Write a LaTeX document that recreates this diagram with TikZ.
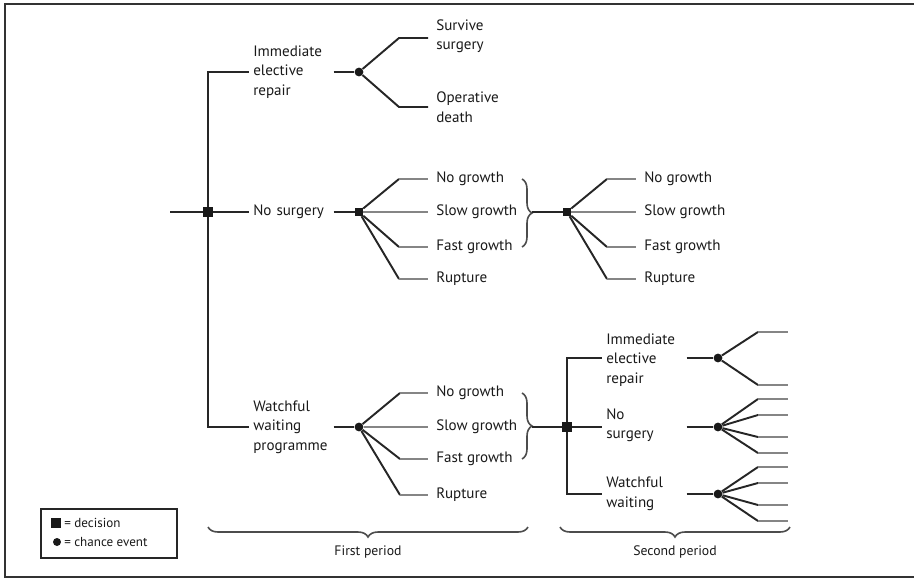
\documentclass[tikz,border=0pt]{standalone}
\usepackage{fontspec}
\setmainfont{PT Sans}
\usetikzlibrary{decorations.pathreplacing}
\begin{document}
\begin{tikzpicture}[x=0.75pt,y=-0.75pt,
  ln/.style={draw=black!85,line width=1.45pt},
  gl/.style={draw=black!48,line width=1.45pt},
  decn/.style={rectangle,fill=black!90,minimum size=7.8pt,inner sep=0pt},
  chc/.style={circle,fill=black!90,minimum size=6.6pt,inner sep=0pt},
  chq/.style={rectangle,fill=black!90,minimum size=6pt,inner sep=0pt},
  txt/.style={font=\fontsize{11.3}{14.6}\selectfont,text=black!90},
  lbl/.style={txt,anchor=west,align=left,text width=57pt,inner xsep=3pt,inner ysep=0pt},
  leaf/.style={txt,anchor=west,align=left,inner xsep=6pt,inner ysep=0pt},
  brc/.style={draw=black!70,line width=1.2pt,decorate,decoration={brace,amplitude=7.5pt}},
]
\useasboundingbox (0,0) rectangle (914,579);
% frame
\coordinate (fr1) at (914,4);
\coordinate (fr2) at (5,4);
\coordinate (fr3) at (5,577);
\coordinate (fr4) at (914,577);
\draw[black!80,line width=1.9pt] (fr1) -- (fr2) -- (fr3) -- (fr4);

% ---------- first decision ----------
\coordinate (root) at (170,212);
\node[decn] (d1) at (208,212) {};
\coordinate (d1t) at (208,72);
\coordinate (d1b) at (208,427);
\node[lbl] (a1) at (249,72) {Immediate\\elective\\repair};
\node[lbl] (a2) at (249,212) {No surgery};
\node[lbl] (a3) at (249,427) {Watchful\\waiting\\programme};
\draw[ln] (root) -- (d1) -- (a2.west);
\draw[ln] (d1) -- (d1t) -- (a1.west);
\draw[ln] (d1) -- (d1b) -- (a3.west);

% ---------- top tree ----------
\node[chc] (c1) at (359,72) {};
\coordinate (k11) at (399,38);
\coordinate (k12) at (399,107);
\node[leaf] (s1) at (428,36) {Survive\\surgery};
\node[leaf] (s2) at (428,107) {Operative\\death};
\draw[ln] (a1.east) -- (c1);
\draw[ln] (c1) -- (k11) -- (s1.west |- k11);
\draw[ln] (c1) -- (k12) -- (s2.west);

% ---------- no surgery tree ----------
\node[chq] (c2) at (359,212) {};
\coordinate (k21) at (399,179);
\coordinate (k23) at (399,247);
\coordinate (k24) at (399,279);
\node[leaf] (n21) at (428,179) {No growth};
\node[leaf] (n22) at (428,212) {Slow growth};
\node[leaf] (n23) at (428,247) {Fast growth};
\node[leaf] (n24) at (428,279) {Rupture};
\draw[ln] (a2.east) -- (c2);
\draw[ln] (c2) -- (k21); \draw[gl] (k21) -- (n21.west);
\draw[gl] (c2) -- (n22.west);
\draw[ln] (c2) -- (k23); \draw[gl] (k23) -- (n23.west);
\draw[ln] (c2) -- (k24); \draw[gl] (k24) -- (n24.west);

\coordinate (b1t) at (522,179);
\coordinate (b1b) at (522,247);
\draw[brc] (b1t) -- (b1b);
\coordinate (b1tip) at (532,212);
\node[chq] (c3) at (567,212) {};
\draw[ln] (b1tip) -- (c3);
\coordinate (k31) at (607,179);
\coordinate (k33) at (607,247);
\coordinate (k34) at (607,279);
\node[leaf] (n31) at (636,179) {No growth};
\node[leaf] (n32) at (636,212) {Slow growth};
\node[leaf] (n33) at (636,247) {Fast growth};
\node[leaf] (n34) at (636,279) {Rupture};
\draw[ln] (c3) -- (k31); \draw[gl] (k31) -- (n31.west);
\draw[gl] (c3) -- (n32.west);
\draw[ln] (c3) -- (k33); \draw[gl] (k33) -- (n33.west);
\draw[ln] (c3) -- (k34); \draw[gl] (k34) -- (n34.west);

% ---------- watchful waiting tree ----------
\node[chc] (c4) at (359,427) {};
\coordinate (k41) at (400,393);
\coordinate (k43) at (400,459);
\coordinate (k44) at (400,495);
\node[leaf] (n41) at (428,393) {No growth};
\node[leaf] (n42) at (428,427) {Slow growth};
\node[leaf] (n43) at (428,459) {Fast growth};
\node[leaf] (n44) at (428,495) {Rupture};
\draw[ln] (a3.east) -- (c4);
\draw[ln] (c4) -- (k41); \draw[gl] (k41) -- (n41.west);
\draw[gl] (c4) -- (n42.west);
\draw[ln] (c4) -- (k43); \draw[gl] (k43) -- (n43.west);
\draw[ln] (c4) -- (k44); \draw[gl] (k44) -- (n44.west);

\coordinate (b2t) at (522,393);
\coordinate (b2b) at (522,459);
\draw[brc] (b2t) -- (b2b);
\coordinate (b2tip) at (532,427);
\node[decn] (d2) at (567,427) {};
\draw[ln] (b2tip) -- (d2);
\coordinate (d2t) at (567,358);
\coordinate (d2b) at (567,494);
\node[lbl] (e1l) at (602,360) {Immediate\\elective\\repair};
\node[lbl] (e2l) at (602,425) {No\\surgery};
\node[lbl] (e3l) at (602,494) {Watchful\\waiting};
\draw[ln] (d2) -- (e2l.west |- d2);
\draw[ln] (d2) -- (d2t) -- (e1l.west |- d2t);
\draw[ln] (d2) -- (d2b) -- (e3l.west |- d2b);

% second period small trees
\node[chc] (e1) at (718,358) {};
\node[chc] (e2) at (718,427) {};
\node[chc] (e3) at (718,494) {};
\draw[ln] (e1l.east |- e1) -- (e1);
\draw[ln] (e2l.east |- e2) -- (e2);
\draw[ln] (e3l.east |- e3) -- (e3);

\coordinate (q11) at (758,332); \coordinate (r11) at (788,332);
\coordinate (q12) at (758,385); \coordinate (r12) at (788,385);
\draw[ln] (e1) -- (q11); \draw[gl] (q11) -- (r11);
\draw[ln] (e1) -- (q12); \draw[gl] (q12) -- (r12);

\coordinate (q21) at (758,399); \coordinate (r21) at (788,399);
\coordinate (q22) at (758,415); \coordinate (r22) at (788,415);
\coordinate (q23) at (758,437); \coordinate (r23) at (788,437);
\coordinate (q24) at (758,453); \coordinate (r24) at (788,453);
\draw[ln] (e2) -- (q21); \draw[gl] (q21) -- (r21);
\draw[ln] (e2) -- (q22); \draw[gl] (q22) -- (r22);
\draw[ln] (e2) -- (q23); \draw[gl] (q23) -- (r23);
\draw[ln] (e2) -- (q24); \draw[gl] (q24) -- (r24);

\coordinate (q31) at (758,467); \coordinate (r31) at (788,467);
\coordinate (q32) at (758,483); \coordinate (r32) at (788,483);
\coordinate (q33) at (758,505); \coordinate (r33) at (788,505);
\coordinate (q34) at (758,521); \coordinate (r34) at (788,521);
\draw[ln] (e3) -- (q31); \draw[gl] (q31) -- (r31);
\draw[ln] (e3) -- (q32); \draw[gl] (q32) -- (r32);
\draw[ln] (e3) -- (q33); \draw[gl] (q33) -- (r33);
\draw[ln] (e3) -- (q34); \draw[gl] (q34) -- (r34);

% ---------- period braces ----------
\coordinate (p1r) at (528,527);
\coordinate (p1l) at (208,527);
\draw[brc] (p1r) -- (p1l);
\node[txt,font=\fontsize{10.3}{12}\selectfont] (fp) at (368,552) {First period};
\coordinate (p2r) at (790,527);
\coordinate (p2l) at (560,527);
\draw[brc] (p2r) -- (p2l);
\node[txt,font=\fontsize{10.3}{12}\selectfont] (sp) at (675,552) {Second period};

% ---------- legend ----------
\node[draw=black!85,line width=1.1pt,minimum width=102pt,minimum height=36.75pt,inner sep=0pt] (leg) at (109,533.5) {};
\node[decn,minimum size=7.2pt] (lg1) at (56,523) {};
\node[chc,minimum size=6pt] (lg2) at (57,542) {};
\node[txt,font=\fontsize{9.8}{11}\selectfont,anchor=west,inner xsep=0pt] (lt1) at (64,523) {= decision};
\node[txt,font=\fontsize{9.8}{11}\selectfont,anchor=west,inner xsep=0pt] (lt2) at (64,542) {= chance event};
\end{tikzpicture}
\end{document}
